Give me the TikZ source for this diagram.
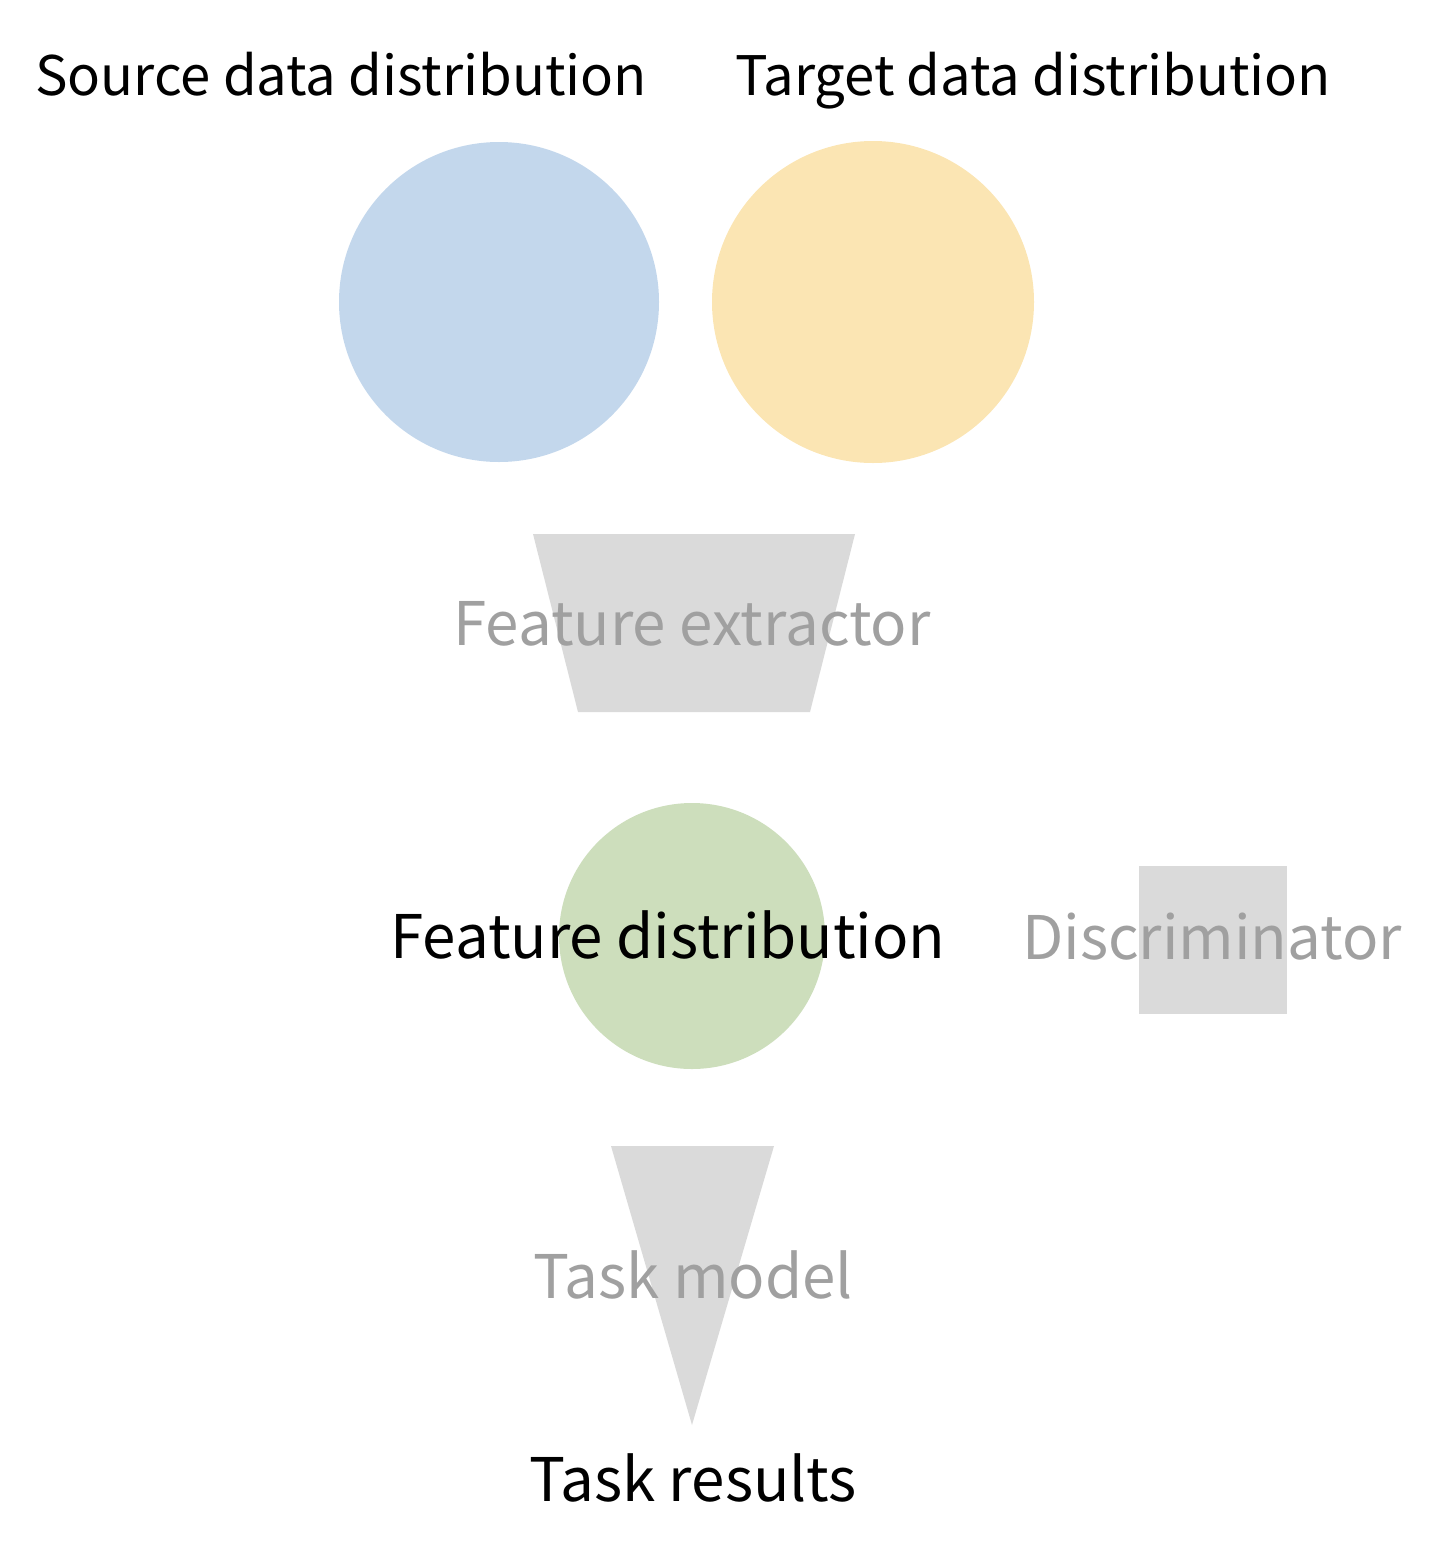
\documentclass[tikz,border=0pt]{standalone}
\usepackage{fontspec}
\usepackage{xcolor}
\usetikzlibrary{
    shapes.geometric,
    positioning,
    calc
}
\newfontfamily\diagfont{Noto Sans CJK KR}
\definecolor{sourceblue}{HTML}{C3D7EC}
\definecolor{targetyellow}{HTML}{FBE5B3}
\definecolor{featgreen}{HTML}{CDDEBC}
\definecolor{blockgray}{HTML}{DADADA}
\definecolor{labelgray}{HTML}{A0A0A0}
\tikzset{
    % Distribution circles
    distribution/.style={
        circle,
        inner sep=0pt,
        fill=#1
    },
    % Network blocks
    block/.style={
        fill=blockgray,
        draw=none
    },
    % Text styles
    title text/.style={
        font=\diagfont\fontsize{15.5}{18}\selectfont,
        text=black,
        inner sep=0pt,
        anchor=base
    },
    main text/.style={
        font=\diagfont\fontsize{17.1}{20}\selectfont,
        text=black,
        inner sep=0pt,
        anchor=base
    },
    block text/.style={
        font=\diagfont\fontsize{17.1}{20}\selectfont,
        text=labelgray,
        inner sep=0pt,
        anchor=base
    }
}
\begin{document}
\begin{tikzpicture}
        \useasboundingbox (0,0) rectangle (14.34,-15.44);

        % Input distributions
        \node[title text] (srctitle) at (3.41,-0.95) {Source data distribution};
        \node[title text] (tgttitle) at (10.33,-0.95) {Target data distribution};
        \node[distribution=sourceblue, minimum size=3.2cm] (source) at (4.99,-3.02) {};
        \node[distribution=targetyellow, minimum size=3.22cm] (target) at (8.73,-3.02) {};

        % Feature extractor
        \fill[block] (5.33,-5.34) -- (8.55,-5.34) -- (8.10,-7.12) -- (5.78,-7.12) -- cycle;
        \node[block text] (extractor) at (6.92,-6.45) {Feature extractor};

        % Feature space and discriminator
        \node[distribution=featgreen, minimum size=2.66cm] (feature) at (6.92,-9.36) {};
        \node[main text] (featlabel) at (6.68,-9.58) {Feature distribution};
        \fill[block] (11.39,-8.66) rectangle (12.87,-10.14);
        \node[block text] (discriminator) at (12.12,-9.59) {Discriminator};

        % Task model
        \fill[block] (6.11,-11.46) -- (7.74,-11.46) -- (6.92,-14.25) -- cycle;
        \node[block text] (taskmodel) at (6.93,-12.98) {Task model};
        \node[main text] (results) at (6.93,-15.01) {Task results};
    \end{tikzpicture}
\end{document}
